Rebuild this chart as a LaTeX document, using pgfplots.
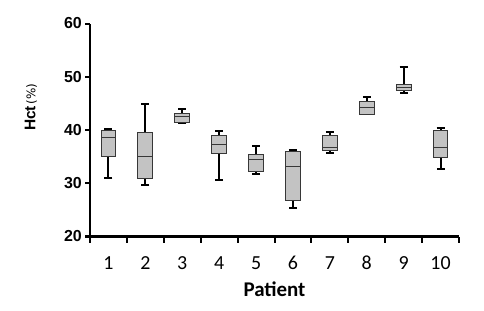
\documentclass[border=0pt]{standalone}
\usepackage{fontspec}
\setmainfont{Carlito}
\newfontfamily\libsans{Liberation Sans}
\newfontfamily\dejavu{DejaVu Sans}
\usepackage{pgfplots}
\usepackage{pgfplotstable}
\pgfplotsset{compat=1.18}
\definecolor{boxfill}{RGB}{195,195,195}
\definecolor{boxedge}{RGB}{55,55,55}
% Hct (%) per patient: lower whisker, lower quartile, median, upper quartile, upper whisker
\pgfplotstableread{
pos lw q1 med q3 uw
1 31.0 35.0 38.6 40.0 40.1
2 29.6 30.9 35.0 39.6 44.8
3 41.3 41.5 42.5 43.1 44.0
4 30.6 35.5 37.2 38.9 39.85
5 31.8 32.2 34.5 35.4 37.0
6 25.3 26.7 33.2 36.0 36.3
7 35.7 36.2 36.8 39.0 39.6
8 43.0 43.0 44.2 45.4 46.2
9 46.9 47.5 48.0 48.6 51.9
10 32.7 34.8 36.8 40.0 40.4
}\hct
\pgfplotsset{boxst/.style={draw=boxedge, fill=boxfill, line width=1bp}}
\begin{document}
\begin{tikzpicture}
\useasboundingbox (0,0) rectangle (484bp,311bp);
\begin{axis}[
  at={(90bp,74.5bp)}, anchor=south west,
  scale only axis, width=369bp, height=213bp,
  xmin=0.5, xmax=10.5, ymin=20, ymax=60,
  axis x line=bottom, axis y line=left,
  axis line style={line width=2bp, -, black},
  tick align=outside,
  xtick={1,...,10}, xticklabels={1,2,3,4,5,6,7,8,9,10},
  minor xtick={0.5,1.5,...,10.5},
  major x tick style={draw=none},
  minor x tick style={line width=2bp, black},
  minor tick length=6bp,
  ytick={20,30,40,50,60}, yticklabels={20,30,40,50,60},
  major y tick style={line width=2bp, black},
  major tick length=5bp,
  xticklabel style={font=\fontsize{20}{24}\selectfont, anchor=base, yshift=-28bp},
  yticklabel style={font=\libsans\bfseries\fontsize{16}{18}\selectfont, anchor=east, inner sep=0pt, xshift=-3bp},
  xlabel={\bfseries Patient},
  xlabel style={font=\fontsize{21}{25}\selectfont, at={(axis description cs:0.5,0)}, anchor=base, yshift=-59.5bp},
  ylabel={{\libsans\bfseries\fontsize{15.5}{18}\selectfont Hct}\,{\dejavu\fontsize{12}{14}\selectfont(\%)}},
  ylabel style={at={(axis description cs:-0.16,0.607)}, anchor=center},
  clip=false,
]
% whiskers with caps
\addplot[draw=none, mark=none,
  error bars/.cd, y dir=both, y explicit,
  error bar style={draw=black, line width=2bp},
  error mark options={draw=black, line width=2bp, mark size=4bp, rotate=90}]
  table[x=pos, y=med, y error plus expr=\thisrow{uw}-\thisrow{med}, y error minus expr=\thisrow{med}-\thisrow{lw}] {\hct};
% boxes (lower to upper quartile)
\addplot[boxst] coordinates {(0.8,35.0) (1.2,35.0) (1.2,40.0) (0.8,40.0)} --cycle;
\addplot[boxst] coordinates {(1.8,30.9) (2.2,30.9) (2.2,39.6) (1.8,39.6)} --cycle;
\addplot[boxst] coordinates {(2.8,41.5) (3.2,41.5) (3.2,43.1) (2.8,43.1)} --cycle;
\addplot[boxst] coordinates {(3.8,35.5) (4.2,35.5) (4.2,38.9) (3.8,38.9)} --cycle;
\addplot[boxst] coordinates {(4.8,32.2) (5.2,32.2) (5.2,35.4) (4.8,35.4)} --cycle;
\addplot[boxst] coordinates {(5.8,26.7) (6.2,26.7) (6.2,36.0) (5.8,36.0)} --cycle;
\addplot[boxst] coordinates {(6.8,36.2) (7.2,36.2) (7.2,39.0) (6.8,39.0)} --cycle;
\addplot[boxst] coordinates {(7.8,43.0) (8.2,43.0) (8.2,45.4) (7.8,45.4)} --cycle;
\addplot[boxst] coordinates {(8.8,47.5) (9.2,47.5) (9.2,48.6) (8.8,48.6)} --cycle;
\addplot[boxst] coordinates {(9.8,34.8) (10.2,34.8) (10.2,40.0) (9.8,40.0)} --cycle;
% medians
\addplot[only marks, mark=-, mark size=7.38bp, mark options={draw=boxedge, line width=1bp}]
  table[x=pos, y=med] {\hct};
\end{axis}
\end{tikzpicture}
\end{document}
